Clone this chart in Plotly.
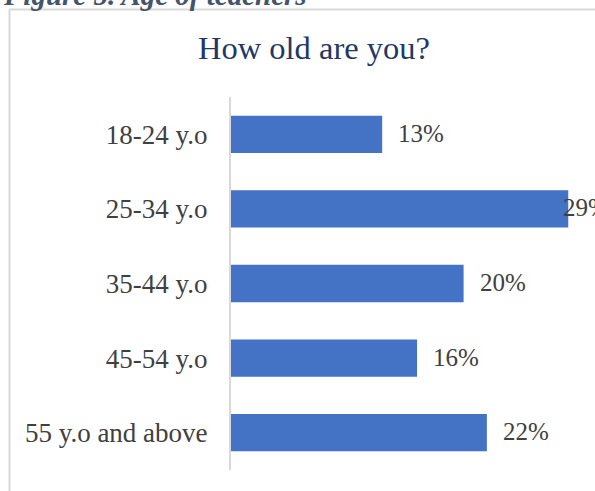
import plotly.graph_objects as go

# Survey answers: age groups of responding teachers
age_groups = ["18-24 y.o", "25-34 y.o", "35-44 y.o", "45-54 y.o", "55 y.o and above"]
shares = [13, 29, 20, 16, 22]
share_labels = [f"{v}%" for v in shares]

W, H = 595, 491
ML, MR, MT, MB = 231, 0, 97, 21
plot_w = W - ML - MR
plot_h = H - MT - MB

SERIF = "Liberation Serif, Times New Roman, serif"
LABEL_GRAY = "#404040"

fig = go.Figure(
    go.Bar(
        y=age_groups,
        x=shares,
        orientation="h",
        marker=dict(color="#4472C4", line=dict(width=0)),
        hoverinfo="skip",
    )
)

# Value labels to the right of each bar; the longest one sits against the edge
top = max(shares)
for cat, v, lab in zip(age_groups, shares, share_labels):
    fig.add_annotation(
        x=v, y=cat, xref="x", yref="y",
        text=lab, showarrow=False,
        xanchor="left", yanchor="middle",
        xshift=14 if v < top else -7, yshift=1,
        font=dict(family=SERIF, size=25, color=LABEL_GRAY),
    )


def px_x(p):
    return (p - ML) / plot_w


def px_y(p):
    return (H - MB - p) / plot_h


# Chart frame (only the top and left edges fall inside the page)
frame = dict(color="#d9d9d9", width=2)
fig.add_shape(type="line", xref="paper", yref="paper",
              x0=px_x(9), x1=px_x(W + 5), y0=px_y(9.5), y1=px_y(9.5), line=frame)
fig.add_shape(type="line", xref="paper", yref="paper",
              x0=px_x(9.5), x1=px_x(9.5), y0=px_y(9.5), y1=px_y(H + 5), line=frame)

# Document caption above the chart box
fig.add_annotation(
    text="<b><i>Figure 5. Age of teachers</i></b>",
    xref="paper", yref="paper",
    x=px_x(1), y=px_y(5), xanchor="left", yanchor="bottom",
    yshift=-8, showarrow=False,
    font=dict(family=SERIF, size=29, color="#44546A"),
)

fig.update_layout(
    width=W, height=H,
    margin=dict(l=ML, r=MR, t=MT, b=MB, pad=0),
    paper_bgcolor="white",
    plot_bgcolor="white",
    showlegend=False,
    bargap=0.5,
    title=dict(
        text="How old are you?",
        x=314 / W, xanchor="center",
        y=1 - 48 / H, yanchor="middle",
        font=dict(family=SERIF, size=32.5, color="#1F3864"),
    ),
    xaxis=dict(
        range=[0, 31.3],
        showgrid=False, zeroline=False, showline=False,
        showticklabels=False, ticks="",
        fixedrange=True,
    ),
    yaxis=dict(
        autorange="reversed",
        showgrid=False, zeroline=False,
        showline=True, linecolor="#d9d9d9", linewidth=2,
        ticks="", ticklabelstandoff=16,
        tickfont=dict(family=SERIF, size=27, color=LABEL_GRAY),
        fixedrange=True,
    ),
)

fig.write_html("out.html", config={"displayModeBar": False})
